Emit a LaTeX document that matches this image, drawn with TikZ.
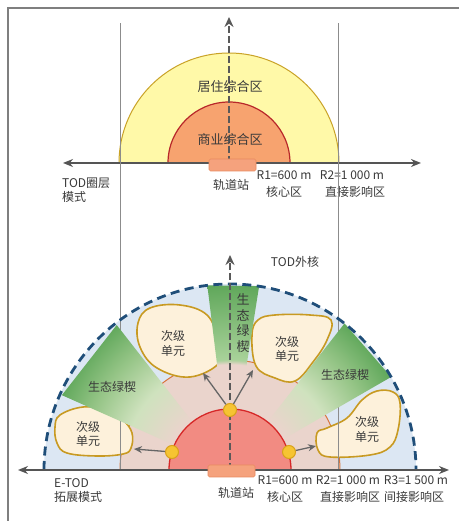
\documentclass[tikz,border=0pt]{standalone}
\usepackage{fontspec}
\setmainfont{Noto Sans CJK SC}
\usetikzlibrary{arrows.meta,calc}
\definecolor{framec}{HTML}{7F7F7F}
\definecolor{vlinec}{HTML}{8C8C8C}
\definecolor{yellowfill}{HTML}{FFF9A8}
\definecolor{yellowdraw}{HTML}{C9A227}
\definecolor{orangefill}{HTML}{F7A36F}
\definecolor{orangedraw}{HTML}{B8282A}
\definecolor{corefill}{HTML}{F28B82}
\definecolor{coredraw}{HTML}{D62828}
\definecolor{pinkc}{HTML}{EAD4CC}
\definecolor{pinkdraw}{HTML}{D9743A}
\definecolor{bluec}{HTML}{DCE7F3}
\definecolor{navy}{HTML}{1F4E79}
\definecolor{wgA}{HTML}{CFE2BE}
\definecolor{wgB}{HTML}{96C587}
\definecolor{wgC}{HTML}{5FA75A}
\definecolor{wgT}{HTML}{A9D29A}
\definecolor{blobfill}{HTML}{FDF1DB}
\definecolor{blobdraw}{HTML}{C89A22}
\definecolor{ynodefill}{HTML}{F6C432}
\definecolor{ynodedraw}{HTML}{D9A21B}
\definecolor{stationfill}{HTML}{F5A27D}
\definecolor{stationdraw}{HTML}{E98A5E}
\definecolor{arrowc}{HTML}{666666}
\definecolor{axisc}{HTML}{555555}
\definecolor{dashc}{HTML}{595959}
\definecolor{textc}{HTML}{3A3A3A}
\pgfdeclareradialshading{wedgeshade}{\pgfpoint{0bp}{0bp}}{color(0bp)=(pinkc); color(8.5bp)=(pinkc); color(14.5bp)=(wgA); color(20bp)=(wgB); color(25bp)=(wgC); color(50bp)=(wgC)}
\pgfdeclareradialshading{topwedgeshade}{\pgfpoint{0bp}{0bp}}{color(0bp)=(pinkc); color(14.2bp)=(pinkc); color(14.8bp)=(wgT); color(25bp)=(wgC); color(50bp)=(wgC)}
\begin{document}
\begin{tikzpicture}[x=1pt,y=1pt,
  lbl/.style={text=textc, inner sep=0pt, font=\fontsize{12}{14.5}\selectfont},
  biglbl/.style={text=textc, inner sep=0pt, font=\fontsize{13}{15}\selectfont},
  vline/.style={draw=vlinec, line width=0.8pt},
  axisline/.style={draw=axisc, line width=1.8pt, {Stealth[length=10pt,width=8pt]}-{Stealth[length=10pt,width=8pt]}},
  dashaxis/.style={draw=dashc, line width=2.8pt, dash pattern=on 7pt off 3pt, -{Stealth[length=10pt,width=9pt]}},
  station/.style={fill=stationfill, draw=stationdraw, line width=0.6pt, rounded corners=1.5pt},
  blob/.style={fill=blobfill, draw=blobdraw, line width=1.6pt},
  ynode/.style={circle, fill=ynodefill, draw=ynodedraw, line width=1pt, minimum size=13pt, inner sep=0pt},
  arr/.style={draw=arrowc, line width=1.3pt, -{Stealth[length=8pt,width=7pt]}}
]
\useasboundingbox (0,0) rectangle (459,521);
\fill[white] (0,0) rectangle (459,521);
% frame
\draw[framec, line width=2pt] (8,0) -- (8,512.5) -- (459,512.5);

% ================= TOP DIAGRAM =================
\coordinate (T) at (229,358);
\fill[yellowfill, draw=yellowdraw, line width=1pt] ($(T)+(-110,0)$) arc[start angle=180, end angle=0, radius=110] -- cycle;
\fill[orangefill, draw=orangedraw, line width=1.2pt] ($(T)+(-61,0)$) arc[start angle=180, end angle=0, radius=61] -- cycle;
\coordinate (Ttop) at (229,504);
\draw[dashaxis] (T) -- (Ttop);
\coordinate (TL) at (63,358);
\coordinate (TR) at (421,358);
\draw[axisline] (TL) -- (TR);
\node[station, minimum width=47pt, minimum height=12pt, inner sep=0pt] (st1) at (232.5,356) {};

\node[biglbl] (zone1) at (230,434) {居住综合区};
\node[biglbl] (zone2) at (230,381) {商业综合区};
\node[lbl, align=left, anchor=west] (mode1) at (62,331) {TOD圈层\\模式};
\node[lbl] (stlbl1) at (231,336) {轨道站};
\node[lbl] (r1a) at (284,346) {R1=600 m};
\node[lbl] (r1b) at (284,329) {核心区};
\node[lbl] (r2a) at (352,346) {R2=1 000 m};
\node[lbl] (r2b) at (355,329) {直接影响区};

% ================= BOTTOM DIAGRAM =================
\coordinate (B) at (230,51);
\fill[bluec] ($(B)+(-186,0)$) arc[start angle=180, end angle=0, radius=186] -- cycle;
\fill[pinkc] ($(B)+(-110,0)$) arc[start angle=180, end angle=0, radius=110] -- cycle;
\draw[pinkdraw, line width=1pt] ($(B)+(-110,0)$) arc[start angle=180, end angle=0, radius=110];

% secondary units
\draw[blob] plot[smooth cycle, tension=0.65] coordinates {(138,198) (150,213) (180,216) (207,206) (218,181) (220,159) (190,144) (157,153) (140,174)};
\draw[blob] plot[smooth cycle, tension=0.65] coordinates {(252,186) (258,201) (275,206) (310,206) (331,201) (327,181) (313,159) (295,140) (275,143) (256,155)};
\draw[blob] plot[smooth cycle, tension=0.65] coordinates {(60,106) (83,114) (107,111) (123,101) (132,88) (131,73) (123,67) (97,65) (67,68) (57,78) (55,94)};
\draw[blob] plot[smooth cycle, tension=0.65] coordinates {(317,88) (327,93) (347,103) (362,121) (377,130) (393,129) (400,118) (398,91) (390,74) (370,66) (330,64) (318,71)};

% vertical guide lines
\draw[vline] (120,51) -- (120,498);
\draw[vline] (338,51) -- (338,498);

% green wedges
\begin{scope}
\clip (B) -- ($(B)+(128:184)$) -- ($(B)+(156:184)$) -- cycle;
\shade[shading=wedgeshade] (B) circle[radius=186];
\end{scope}
\begin{scope}
\clip (B) -- ($(B)+(30:186)$) -- ($(B)+(52:186)$) -- cycle;
\shade[shading=wedgeshade] (B) circle[radius=186];
\end{scope}
\begin{scope}
\clip (B) -- ($(B)+(81:186)$) -- ($(B)+(97:186)$) -- cycle;
\shade[shading=topwedgeshade] (B) circle[radius=186];
\end{scope}

% core
\fill[corefill, draw=coredraw, line width=1.3pt] ($(B)+(-61,0)$) arc[start angle=180, end angle=0, radius=61] -- cycle;

% outer dashed boundary
\draw[navy, line width=2.8pt, dash pattern=on 9pt off 5.5pt] ($(B)+(-186,0)$) arc[start angle=180, end angle=0, radius=186];

% central axis
\coordinate (Btop) at (230,266);
\draw[dashaxis] (B) -- (Btop);
\coordinate (BL) at (18,51);
\coordinate (BR) at (449,51);
\draw[axisline] (BL) -- (BR);
\node[station, minimum width=47pt, minimum height=12pt, inner sep=0pt] (st2) at (231.5,50) {};

% nodes and arrows
\node[ynode] (nt) at (230,111) {};
\node[ynode] (nl) at (172,69) {};
\node[ynode] (nr) at (289,69) {};
\coordinate (eUL) at (203,148);
\coordinate (eUR) at (253,151);
\coordinate (eLL) at (134,72);
\coordinate (eLR) at (316,75);
\draw[arr] (nt) -- (eUL);
\draw[arr] (nt) -- (eUR);
\draw[arr] (nl) -- (eLL);
\draw[arr] (nr) -- (eLR);

% texts
\node[lbl] (outer) at (295,259) {TOD外核};
\node[biglbl, align=center, font=\fontsize{13}{15.5}\selectfont] (gw1) at (243,198) {生\\态\\绿\\楔};
\node[lbl] (gw2) at (112,134) {生态绿楔};
\node[lbl] (gw3) at (345,146) {生态绿楔};
\node[lbl, align=center] (u1) at (173,177.5) {次级\\单元};
\node[lbl, align=center] (u2) at (287,172) {次级\\单元};
\node[lbl, align=center] (u3) at (88,87) {次级\\单元};
\node[lbl, align=center] (u4) at (367,91.5) {次级\\单元};
\node[lbl, align=left, anchor=west] (mode2) at (54,30.5) {E-TOD\\拓展模式};
\node[lbl] (stlbl2) at (236,28) {轨道站};
\node[lbl] (b1a) at (285,41) {R1=600 m};
\node[lbl] (b1b) at (285,24) {核心区};
\node[lbl] (b2a) at (348,41) {R2=1 000 m};
\node[lbl] (b2b) at (350,24) {直接影响区};
\node[lbl] (b3a) at (416,41) {R3=1 500 m};
\node[lbl] (b3b) at (414,24) {间接影响区};
\end{tikzpicture}
\end{document}
